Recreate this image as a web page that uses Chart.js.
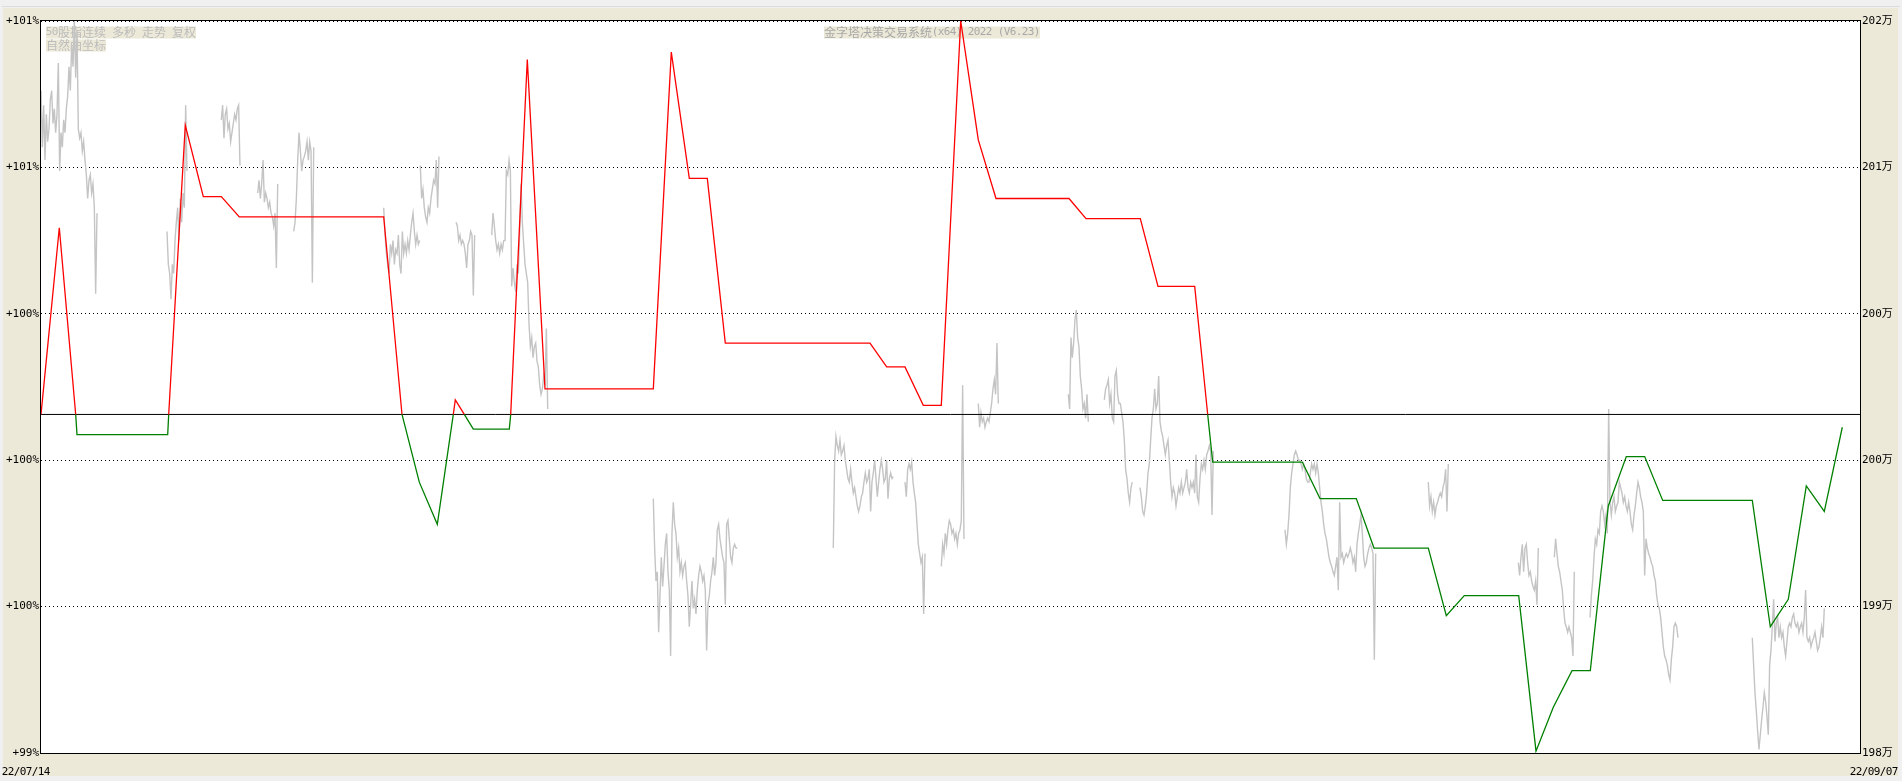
<!DOCTYPE html>
<html>
<head>
<meta charset="utf-8">
<script src="https://cdn.jsdelivr.net/npm/chart.js@4/dist/chart.umd.min.js"></script>
<style>
  html, body { margin: 0; padding: 0; overflow: hidden; background: #f0f0f0; }
  canvas { display: block; }
</style>
</head>
<body>
<canvas id="chart" width="1902" height="781"></canvas>
<script>
'use strict';
// equity curve (万), x = bar index
let equityT = [0, 18.3, 34.7, 36, 126.7, 127.7, 144.3, 162.3, 180.3, 198.3, 342.7, 361, 378.3, 396.3, 412.3, 414.3, 423.3, 432.3,
  468.3, 469.7, 486.3, 504, 612.3, 630.3, 648.3, 666.3, 684.3, 829, 845.7, 864, 882.3, 900.3, 919.7, 937.3, 955, 1028, 1045,
  1099.3, 1117, 1153.7, 1166.7, 1171.7, 1261.3, 1279, 1315.3, 1333, 1387.3, 1405.3, 1423.3, 1477.7, 1495, 1512.3, 1531,
  1549.3, 1567.3, 1585.3, 1603.7, 1621.7, 1711.3, 1729.3, 1747.3, 1765.3, 1783.3, 1801.3];
let equityV = [199.85, 200.87, 199.85, 199.74, 199.74, 199.85, 201.43, 201.04, 201.04, 200.93, 200.93, 199.85, 199.48, 199.25, 199.85, 199.93, 199.85, 199.77,
  199.77, 199.85, 201.79, 199.99, 199.99, 201.83, 201.14, 201.14, 200.24, 200.24, 200.11, 200.11, 199.90, 199.90, 202.0, 201.35, 201.03, 201.03, 200.92,
  200.92, 200.55, 200.55, 199.85, 199.59, 199.59, 199.39, 199.39, 199.12, 199.12, 198.75, 198.86, 198.86, 198.01, 198.25, 198.45,
  198.45, 199.35, 199.62, 199.62, 199.38, 199.38, 198.69, 198.84, 199.46, 199.32, 199.78];
let baseValue = 199.85;

// price trace, one run per session
let priceStep = 4 / 3;
let priceStart = [0, 126, 180.3, 216.7, 252.7, 342.7, 379.3, 415, 450.7, 612.3, 792.3, 864, 900.3, 937.3, 1027.3, 1063.3, 1099, 1244, 1387.3, 1477.3, 1513.3, 1549, 1711.3];
let priceRuns = [
  [201.62,201.31,201.54,201.24,201.49,201.34,201.41,201.57,201.62,201.44,201.52,201.39,201.49,201.77,201.18,201.39,201.31,201.46,201.39,201.52,201.59,201.75,201.62,201.87,201.75,202.0,201.69,201.95,201.41,201.36,201.39,201.29,201.34,201.24,201.16,201.03,201.13,201.16,201.06,201.11,200.98,200.51,200.95],
  [200.85,200.67,200.62,200.48,200.67,200.62,200.80,200.90,200.98,200.80,201.03,200.90,201.06,200.98,201.54,201.18],
  [201.46,201.54,201.36,201.49,201.52,201.41,201.44,201.34,201.39,201.44,201.49,201.46,201.52,201.54,201.21],
  [201.06,201.13,201.03,201.11,201.24,201.01,201.06,201.03,200.98,201.01,200.95,200.93,200.88,200.95,200.65,201.11],
  [200.85,200.90,201.03,201.24,201.39,201.29,201.18,201.24,201.26,201.29,201.34,201.24,201.34,201.29,200.57,201.31],
  [200.98,200.83,200.73,200.67,200.62,200.78,200.73,200.80,200.67,200.75,200.73,200.83,200.67,200.62,200.85,200.73,200.78,200.73,200.80,200.75,200.83,200.90,200.95,200.85,200.78,200.83,200.78,200.80],
  [201.21,201.03,201.08,200.98,200.93,200.90,200.98,200.95,201.03,201.08,201.13,201.11,201.24,200.98,201.26],
  [200.90,200.88,200.80,200.83,200.78,200.80,200.78,200.73,200.65,200.78,200.80,200.85,200.83,200.50,200.83],
  [200.83,200.95,200.88,200.80,200.75,200.78,200.73,200.78,200.75,200.80,200.80,201.18,201.16,201.24,201.18,200.55,200.65,200.57,200.52,200.67,200.62,200.85,201.11,200.90,200.78,200.67,200.62,200.57,200.34,200.22,200.27,200.16,200.22,200.24,200.14,200.11,200.01,199.96,199.99,200.06,200.01,200.32,199.88],
  [199.39,199.12,198.94,198.99,198.66,198.86,199.07,198.91,199.02,199.14,199.20,198.99,198.89,198.53,199.20,199.37,199.25,199.20,199.07,199.12,198.99,199.04,198.97,199.02,199.04,198.94,198.86,198.69,198.81,198.94,198.79,198.84,198.76,198.89,198.97,199.02,198.99,198.94,198.97,198.89,198.56,198.81,198.86,198.94,198.99,199.07,198.97,199.04,199.22,199.25,199.17,199.12,199.07,199.04,198.81,199.25,199.27,199.17,199.07,199.04,199.12,199.14,199.12,199.12],
  [199.12,199.60,199.73,199.68,199.65,199.71,199.63,199.65,199.68,199.60,199.55,199.50,199.48,199.55,199.48,199.42,199.45,199.40,199.35,199.32,199.35,199.40,199.42,199.48,199.53,199.48,199.50,199.55,199.32,199.48,199.53,199.60,199.50,199.40,199.48,199.55,199.60,199.55,199.48,199.50,199.60,199.39,199.50,199.53,199.50,199.51],
  [199.48,199.40,199.55,199.58,199.55,199.59,199.48,199.42,199.37,199.25,199.14,199.09,199.04,199.07,198.76,199.09],
  [199.02,199.14,199.09,199.20,199.14,199.22,199.27,199.25,199.20,199.22,199.17,199.20,199.14,199.20,199.22,199.27,200.01,199.17],
  [199.91,199.78,199.86,199.81,199.83,199.78,199.81,199.83,199.81,199.86,199.91,199.99,200.04,199.96,200.24,199.91],
  [199.96,199.88,200.27,200.16,200.24,200.37,200.42,200.27,200.22,200.06,199.99,199.88,199.91,199.83,199.96,199.81],
  [199.93,199.99,200.01,200.04,199.91,199.96,199.83,199.81,200.06,200.09,199.96,199.91,199.91,199.86,199.81,199.71,199.55,199.50,199.42,199.37,199.45,199.48],
  [199.45,199.40,199.32,199.30,199.35,199.42,199.53,199.58,199.71,199.83,199.88,199.99,199.88,199.91,200.06,199.81,199.76,199.73,199.68,199.63,199.68,199.71,199.60,199.48,199.40,199.45,199.42,199.35,199.40,199.45,199.42,199.48,199.42,199.45,199.48,199.55,199.45,199.42,199.48,199.45,199.48,199.42,199.63,199.40,199.37,199.50,199.58,199.55,199.60,199.55,199.63,199.65,199.68,199.65,199.30,199.65],
  [199.22,199.14,199.20,199.30,199.45,199.53,199.58,199.63,199.65,199.63,199.60,199.60,199.58,199.55,199.58,199.55,199.50,199.48,199.48,199.53,199.58,199.55,199.58,199.53,199.58,199.53,199.45,199.37,199.32,199.25,199.20,199.17,199.12,199.07,199.04,199.02,198.99,198.97,199.02,199.07,198.89,199.37,199.07,199.09,199.04,199.07,199.09,199.07,199.09,199.12,199.09,199.04,199.07,198.99,199.14,199.20,199.25,199.30,199.20,199.07,199.02,199.04,199.09,199.12,199.14,199.12,199.09,198.51,199.09],
  [199.48,199.35,199.40,199.32,199.37,199.30,199.35,199.37,199.40,199.42,199.40,199.45,199.48,199.55,199.32,199.58],
  [199.04,198.97,199.07,199.14,198.99,199.12,199.14,199.04,198.97,198.99,198.94,198.91,198.89,198.94,198.81,199.12],
  [199.07,199.17,199.09,199.02,198.99,198.94,198.89,198.79,198.71,198.69,198.66,198.69,198.66,198.63,198.53,198.99],
  [198.74,198.86,198.94,199.07,199.17,199.14,199.22,199.20,199.32,199.35,199.32,199.25,199.30,199.20,199.88,199.37,199.30,199.37,199.40,199.32,199.35,199.37,199.48,199.45,199.42,199.37,199.40,199.35,199.32,199.37,199.32,199.25,199.22,199.30,199.35,199.42,199.48,199.45,199.40,199.37,199.32,198.97,199.17,199.12,199.09,199.07,199.04,199.02,198.97,198.94,198.86,198.81,198.79,198.74,198.66,198.58,198.53,198.51,198.48,198.43,198.40,198.51,198.58,198.69,198.71,198.69,198.63],
  [198.63,198.48,198.33,198.23,198.12,198.02,198.10,198.18,198.25,198.33,198.28,198.20,198.10,198.48,198.56,198.69,198.84,198.61,198.71,198.74,198.63,198.69,198.63,198.66,198.58,198.53,198.61,198.69,198.71,198.69,198.74,198.76,198.71,198.69,198.71,198.66,198.69,198.71,198.66,198.74,198.89,198.63,198.61,198.63,198.58,198.61,198.63,198.66,198.61,198.56,198.58,198.63,198.69,198.63,198.79]
];

let tickValues = [198, 198.8, 199.6, 200.4, 201.2, 202];
let leftLabels = ['+99%', '+100%', '+100%', '+100%', '+101%', '+101%'];
let rightLabels = ['198万', '199万', '200万', '200万', '201万', '202万'];
let dateLabels = ['22/07/14', '22/09/07'];
let titleText = '金字塔决策交易系统(x64) 2022 (V6.23)';
let infoLines = ['50股指连续 多秒 走势 复权', '自然曲坐标'];

let lastT = 1819;
let tickFont = { family: '"DejaVu Sans Mono", "Noto Sans CJK SC", monospace', size: 11 };

let equityData = equityT.map((t, i) => ({ x: t, y: equityV[i] }));
let priceData = [];
priceRuns.forEach((run, r) => {
  run.forEach((v, i) => priceData.push({ x: priceStart[r] + i * priceStep, y: v }));
  priceData.push({ x: priceStart[r] + run.length * priceStep, y: null });
});

// draw text the way the old terminal does: CJK 12px, ascii 6px cells
function textWidth(text) {
  let w = 0;
  for (const ch of text) w += ch.charCodeAt(0) > 0x2e80 ? 12 : 6;
  return w;
}
function drawMixed(ctx, text, x, y, align) {
  if (align === 'right') x -= textWidth(text);
  ctx.textBaseline = 'middle';
  ctx.textAlign = 'left';
  for (const ch of text) {
    let cjk = ch.charCodeAt(0) > 0x2e80;
    ctx.font = cjk ? '12px "Noto Sans CJK SC"' : '11px "DejaVu Sans Mono"';
    ctx.fillText(ch, cjk ? x : x - 0.3, y);
    x += cjk ? 12 : 6;
  }
}

function textBox(ctx, text, x, y, color) {
  ctx.fillStyle = '#ece9d8';
  ctx.fillRect(x, y - 6, textWidth(text), 12);
  ctx.fillStyle = color;
  drawMixed(ctx, text, x, y);
}

let framePlugin = {
  id: 'frame',
  beforeDraw(chart) {
    let ctx = chart.ctx;
    let a = chart.chartArea;
    ctx.save();
    ctx.fillStyle = '#f0f0f0';
    ctx.fillRect(0, 0, chart.width, chart.height);
    ctx.fillStyle = '#dcdcdc';
    ctx.fillRect(2, 6, chart.width - 4, 1);
    ctx.fillStyle = '#ece9d8';
    ctx.fillRect(3, 8, chart.width - 7, chart.height - 13);
    ctx.fillStyle = '#ffffff';
    ctx.fillRect(a.left, a.top, a.right - a.left, a.bottom - a.top);
    ctx.restore();
  },
  beforeDatasetsDraw(chart) {
    let ctx = chart.ctx;
    ctx.save();
    textBox(ctx, infoLines[0], 46, 32.5, '#bcbcbc');
    textBox(ctx, infoLines[1], 46, 45.5, '#bcbcbc');
    textBox(ctx, titleText, 824, 32.5, '#a8a8a8');
    ctx.restore();
  },
  afterDraw(chart) {
    let ctx = chart.ctx;
    let a = chart.chartArea;
    ctx.save();
    ctx.strokeStyle = '#000';
    ctx.lineWidth = 1;
    ctx.strokeRect(Math.round(a.left) - 0.5, Math.round(a.top) - 0.5, Math.round(a.right - a.left) + 1, Math.round(a.bottom - a.top) + 1);
    ctx.fillStyle = '#000';
    drawMixed(ctx, dateLabels[0], 2, 772);
    drawMixed(ctx, dateLabels[1], 1898, 772, 'right');
    ctx.restore();
  }
};

function fixTicks(scale) {
  scale.ticks = tickValues.map(v => ({ value: v }));
}

let chart = new Chart(document.getElementById('chart'), {
  type: 'line',
  data: {
    datasets: [{
      label: 'equity',
      data: equityData,
      order: 0,
      borderWidth: 1.3,
      pointRadius: 0,
      tension: 0,
      borderColor: '#ff0000',
      segment: {
        borderColor: c => Math.max(c.p0.parsed.y, c.p1.parsed.y) > baseValue + 0.001 ? '#ff0000' : '#008000'
      }
    }, {
      label: 'base',
      data: [{ x: 0, y: baseValue }, { x: lastT, y: baseValue }],
      order: 1,
      borderColor: '#000000',
      borderWidth: 1,
      pointRadius: 0
    }, {
      label: 'price',
      data: priceData,
      order: 2,
      borderColor: '#c4c4c4',
      borderWidth: 1.4,
      pointRadius: 0,
      tension: 0,
      spanGaps: false
    }]
  },
  options: {
    responsive: false,
    animation: false,
    devicePixelRatio: 1,
    layout: { padding: { top: 21, bottom: 28, left: 0, right: 0 } },
    plugins: { legend: { display: false }, tooltip: { enabled: false } },
    scales: {
      x: {
        type: 'linear',
        min: 0,
        max: lastT,
        display: false
      },
      y: {
        position: 'left',
        min: 198,
        max: 202,
        afterBuildTicks: fixTicks,
        afterFit: s => { s.width = 41; },
        grid: { color: '#000000', lineWidth: 1, drawTicks: false },
        border: { display: false, dash: [1, 3] },
        ticks: {
          padding: 2,
          color: '#000000',
          font: tickFont,
          callback: (v, i) => leftLabels[i]
        }
      },
      y2: {
        position: 'right',
        min: 198,
        max: 202,
        afterBuildTicks: fixTicks,
        afterFit: s => { s.width = 42; },
        grid: { display: false, drawTicks: false },
        border: { display: false },
        ticks: {
          padding: 2,
          color: '#000000',
          font: tickFont,
          callback: (v, i) => rightLabels[i]
        }
      }
    }
  },
  plugins: [framePlugin]
});
</script>
</body>
</html>
